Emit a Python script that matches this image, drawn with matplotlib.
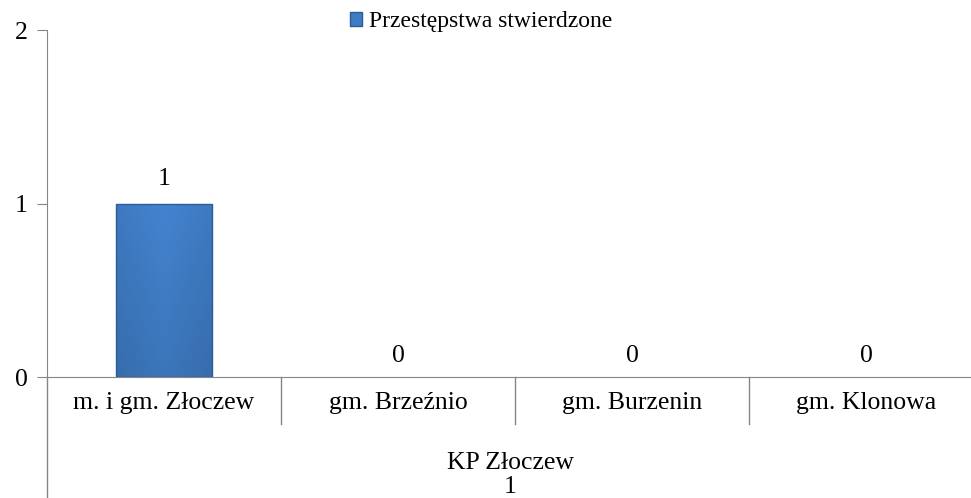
import matplotlib
matplotlib.use("Agg")
import matplotlib.pyplot as plt
import numpy as np
from matplotlib.lines import Line2D
from matplotlib.patches import Rectangle

categories = ["m. i gm. Złoczew", "gm. Brzeźnio", "gm. Burzenin", "gm. Klonowa"]
values = [1, 0, 0, 0]
series_name = "Przestępstwa stwierdzone"
group_label = "KP Złoczew"
group_total = "1"
yticks = [0, 1, 2]

plt.rcParams['font.family'] = ['Liberation Serif', 'DejaVu Serif']
W, H = 971, 498
fig = plt.figure(figsize=(W / 100, H / 100), dpi=100)
x0, x1, y0, y1 = 47, 983, 377, 30
ax = fig.add_axes([x0 / W, 1 - y0 / H, (x1 - x0) / W, (y0 - y1) / H])
ax.set_xlim(-0.5, len(categories) - 0.5)
ax.set_ylim(0, 2)

FS = 18.5
axis_col = "#868686"
xs = np.arange(len(categories))
bw = 0.41
bars = ax.bar(xs, values, width=bw, color="#3f7cc4", linewidth=0, zorder=2)

# gradient/bevel look
grad = np.linspace(0, 1, 256)
hx = 1 - 0.35 * np.abs(grad - 0.5) * 2
img = np.ones((64, 256, 3))
base = np.array([0x3f, 0x7c, 0xc4]) / 255
for k in range(3):
    img[:, :, k] = base[k] * (0.80 + 0.22 * hx)[None, :]
vy = np.linspace(1.04, 0.93, 64)[:, None]
img = np.clip(img * vy[:, :, None], 0, 1)
for b, v in zip(bars, values):
    if v > 0:
        im = ax.imshow(img, extent=[b.get_x(), b.get_x() + b.get_width(), 0, v],
                       aspect='auto', zorder=2.5, origin='upper')
        im.set_clip_path(b)
        ax.add_patch(Rectangle((b.get_x(), 0), b.get_width(), v, fill=False,
                               edgecolor="#2b5c98", linewidth=1.0, zorder=3))

for xv, v in zip(xs, values):
    off = 10 if v > 0 else 7
    ax.annotate(str(v), (xv, v), xytext=(0, off), textcoords="offset points",
                ha="center", va="bottom", fontsize=FS, color="black")

ax.set_yticks(yticks)
ax.set_yticklabels([str(t) for t in yticks], fontsize=FS)
ax.tick_params(axis='y', direction='out', length=7, color=axis_col, pad=7)
ax.set_xticks([])
for s in ["top", "right"]:
    ax.spines[s].set_visible(False)
ax.spines["left"].set_color(axis_col)
ax.spines["bottom"].set_color(axis_col)

# category labels and separators
for i, c in enumerate(categories):
    xp = x0 + (x1 - x0) * (i + 0.5) / len(categories)
    fig.text(xp / W, 1 - 403 / H, c, ha="center", va="center", fontsize=FS)
for i in range(1, len(categories) + 1):
    xp = x0 + (x1 - x0) * i / len(categories)
    fig.add_artist(Line2D([xp / W, xp / W], [1 - y0 / H, 1 - 424 / H], color=axis_col, lw=1))
fig.add_artist(Line2D([x0 / W, x0 / W], [1 - y0 / H, 0], color=axis_col, lw=1))

fig.text(510 / W, 1 - 463 / H, group_label, ha="center", va="center", fontsize=FS)
fig.text(510 / W, 1 - 487 / H, group_total, ha="center", va="center", fontsize=FS)

handle = Rectangle((0, 0), 1, 1, facecolor="#3f7cc4", edgecolor="#2b5c98")
fig.legend([handle], [series_name], loc="center", bbox_to_anchor=(481 / W, 1 - 22 / H),
           frameon=False, fontsize=17, handlelength=0.5, handleheight=0.5, handletextpad=0.3)

fig.savefig("out.png", dpi=100)
